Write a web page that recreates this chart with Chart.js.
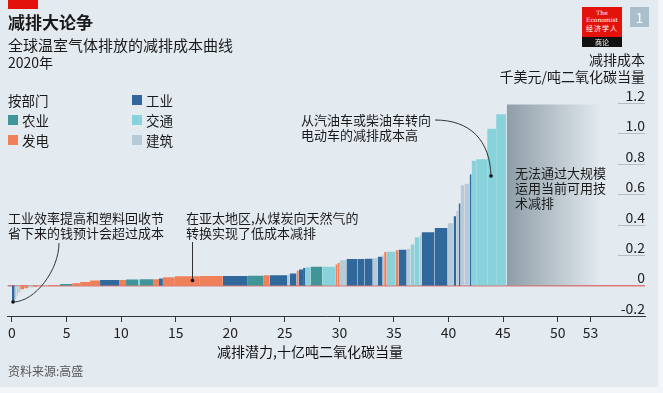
<!DOCTYPE html>
<html>
<head>
<meta charset="utf-8">
<script src="https://cdn.jsdelivr.net/npm/chart.js@4"></script>
<style>
  html, body { margin: 0; padding: 0; background: #f3f6f8; }
  #wrap { position: relative; width: 663px; height: 393px; overflow: hidden;
          font-family: "Noto Sans CJK SC", "Noto Sans", sans-serif; color: #1a1a1a; }
  #bg { position: absolute; left: 0; top: 0; width: 658px; height: 387px; background: #e4ebf0; }
  #c { position: absolute; left: 0; top: 0; }
  .t { position: absolute; white-space: nowrap; }
  .sw { position: absolute; width: 10px; height: 10px; }
  svg { position: absolute; left: 0; top: 0; }
</style>
</head>
<body>
<div id="wrap">
  <div id="bg"></div>
  <canvas id="c" width="663" height="393"></canvas>

  <div style="position:absolute;left:8px;top:0;width:30px;height:9px;background:#e3120b"></div>
  <div class="t" style="left:8px;top:12px;font-size:17px;line-height:20px;font-weight:bold">减排大论争</div>
  <div class="t" style="left:8px;top:36px;font-size:15px;line-height:18px">全球温室气体排放的减排成本曲线</div>
  <div class="t" style="left:8px;top:53px;font-size:14px;line-height:18px">2020年</div>

  <!-- legend -->
  <div class="t" style="left:8px;top:92px;font-size:13.5px;line-height:16px">按部门</div>
  <div class="sw" style="left:8px;top:115px;background:#3f9598"></div>
  <div class="t" style="left:22px;top:112px;font-size:13.5px;line-height:16px">农业</div>
  <div class="sw" style="left:8px;top:135px;background:#ef8059"></div>
  <div class="t" style="left:22px;top:132px;font-size:13.5px;line-height:16px">发电</div>
  <div class="sw" style="left:132px;top:95px;background:#31689b"></div>
  <div class="t" style="left:146px;top:92px;font-size:13.5px;line-height:16px">工业</div>
  <div class="sw" style="left:132px;top:115px;background:#88d2db"></div>
  <div class="t" style="left:146px;top:112px;font-size:13.5px;line-height:16px">交通</div>
  <div class="sw" style="left:132px;top:135px;background:#b5cbd7"></div>
  <div class="t" style="left:146px;top:132px;font-size:13.5px;line-height:16px">建筑</div>

  <!-- logo -->
  <div style="position:absolute;left:582px;top:7px;width:40px;height:30px;background:#e3120b;color:#fff;text-align:center;font-family:'DejaVu Serif',serif">
    <div style="font-size:6px;line-height:7px;margin-top:2px">The</div>
    <div style="font-size:6px;line-height:7px">Economist</div>
    <div style="font-size:7px;line-height:10px;font-family:'Noto Sans CJK SC';letter-spacing:1px">经济学人</div>
  </div>
  <div style="position:absolute;left:582px;top:37px;width:40px;height:10px;background:#111;color:#fff;text-align:center;font-size:7px;line-height:10px">商论</div>
  <div style="position:absolute;left:630px;top:7px;width:19px;height:20px;background:#a9bfcc;color:#fff;text-align:center;font-size:14px;line-height:20px">1</div>

  <!-- y axis title -->
  <div class="t" style="right:18px;top:51px;font-size:14px;line-height:17px;text-align:right">减排成本<br>千美元/吨二氧化碳当量</div>

  <!-- annotations -->
  <div class="t" style="left:8px;top:210px;font-size:13px;line-height:15px">工业效率提高和塑料回收节<br>省下来的钱预计会超过成本</div>
  <div class="t" style="left:186px;top:210px;font-size:13px;line-height:15px">在亚太地区,从煤炭向天然气的<br>转换实现了低成本减排</div>
  <div class="t" style="left:301px;top:112px;font-size:13px;line-height:15px">从汽油车或柴油车转向<br>电动车的减排成本高</div>
  <div class="t" style="left:515px;top:165px;font-size:13px;line-height:15px">无法通过大规模<br>运用当前可用技<br>术减排</div>

  <svg width="663" height="393">
    <path d="M59,243 C59,270 35,302 13,302" fill="none" stroke="#333" stroke-width="1"/>
    <circle cx="13" cy="302" r="1.8" fill="#111"/>
    <path d="M192.5,242 L192.5,280" fill="none" stroke="#333" stroke-width="1"/>
    <circle cx="192.5" cy="280.5" r="1.8" fill="#111"/>
    <path d="M435,120 C470,120 490,140 491,176" fill="none" stroke="#333" stroke-width="1"/>
    <circle cx="491" cy="176" r="1.8" fill="#111"/>
  </svg>

  <div class="t" style="left:217px;top:343px;font-size:14px;line-height:17px;color:#111">减排潜力,十亿吨二氧化碳当量</div>
  <div class="t" style="left:8px;top:363px;font-size:12px;line-height:16px;color:#555">资料来源:高盛</div>
</div>

<script>
// segment edges along x (billion tonnes CO2e), one more than the costs
const segEdges = [0, 0.25, 0.41, 0.57, 0.75, 1.12, 1.48, 1.94, 2.31, 3.31,
  4.41, 5.51, 6.24, 7.15, 8.07, 9.81, 10.45, 11.55, 11.73, 12.92,
  13.47, 13.83, 14.93, 17.22, 19.32, 21.61, 23.07, 23.62, 25.24, 25.45,
  26.07, 26.28, 26.67, 26.89, 27.35, 28.44, 29.63, 29.82, 30.03, 30.64,
  31.67, 32.31, 33.05, 33.50, 33.96, 34.10, 34.33, 35.15, 35.42, 36.16,
  36.52, 36.89, 37.35, 37.53, 38.72, 39.91, 40.46, 40.70, 40.92, 41.10,
  41.47, 41.93, 42.11, 42.53, 43.54, 44.36, 45.28];
// abatement cost, thousand $ per tonne CO2e
const segCosts = [-0.108, -0.09, -0.065, -0.045, -0.024, -0.018, -0.012, -0.007, -0.003, 0.003,
  0.011, 0.015, 0.024, 0.033, 0.037, 0.037, 0.04, 0.04, 0.041, 0.042,
  0.047, 0.055, 0.061, 0.063, 0.063, 0.064, 0.068, 0.068, 0.072, 0.079,
  0.098, 0.105, 0.116, 0.12, 0.123, 0.123, 0.138, 0.149, 0.166, 0.174,
  0.175, 0.176, 0.18, 0.19, 0.2, 0.22, 0.222, 0.232, 0.236, 0.242,
  0.27, 0.318, 0.33, 0.35, 0.378, 0.41, 0.455, 0.49, 0.54, 0.66,
  0.67, 0.73, 0.82, 0.83, 1.03, 1.126];
// I 工业, A 农业, P 发电, T 交通, B 建筑
const segSectors = ['I','B','B','B','P','P','B','P','B','P',
  'A','P','P','P','I','P','A','T','A','P',
  'I','P','P','P','I','A','P','I','B','I',
  'P','I','I','T','A','T','P','P','B','I',
  'I','I','B','I','B','P','T','P','I','B',
  'T','T','B','I','I','B','I','B','I','B',
  'B','I','T','T','T','T'];
const noTechRange = [45.33, 54];
const noTechCost = 1.19;
const xTicks = [0, 5, 10, 15, 20, 25, 30, 35, 40, 45, 50, 53];

const sectorColors = { I: '#31689b', A: '#3f9598', P: '#ef8059', T: '#88d2db', B: '#b5cbd7' };

function box(x0, x1, y) {
    return [{x: x0, y: 0}, {x: x0, y: y}, {x: x1, y: y}, {x: x1, y: 0}];
}

var datasets = segCosts.map(function(cost, i) {
    return {
        data: box(segEdges[i], segEdges[i + 1], cost),
        backgroundColor: sectorColors[segSectors[i]],
        borderColor: 'transparent',
        borderWidth: 0,
        pointRadius: 0,
        fill: 'origin'
    };
});

// grey box for what cannot be abated, fading out to the right
datasets.push({
    data: box(noTechRange[0], noTechRange[1], noTechCost),
    backgroundColor: function(context) {
        const chart = context.chart;
        if (!chart.chartArea) return '#8d9da7';
        const xs = chart.scales.x;
        const g = chart.ctx.createLinearGradient(xs.getPixelForValue(noTechRange[0]), 0, xs.getPixelForValue(noTechRange[1]), 0);
        g.addColorStop(0, 'rgba(141,157,167,1)');
        g.addColorStop(1, 'rgba(141,157,167,0)');
        return g;
    },
    borderColor: 'transparent',
    borderWidth: 0,
    pointRadius: 0,
    fill: 'origin'
});

// short grey rules under the right-hand labels
const tickUnderlines = {
    id: 'tickUnderlines',
    afterDraw(chart) {
        const { ctx, chartArea } = chart;
        const y = chart.scales.y;
        ctx.save();
        ctx.strokeStyle = '#b3bec7';
        ctx.lineWidth = 1;
        y.ticks.forEach(function(t) {
            if (Math.abs(t.value) < 1e-9 || Math.abs(t.value - y.min) < 1e-9) return;
            const py = Math.round(y.getPixelForValue(t.value)) + 0.5;
            ctx.beginPath();
            ctx.moveTo(chartArea.right - 27, py);
            ctx.lineTo(chartArea.right, py);
            ctx.stroke();
        });
        ctx.restore();
    }
};

Chart.defaults.font.family = '"Noto Sans CJK SC", "Noto Sans", sans-serif';
Chart.defaults.color = '#222';

new Chart(document.getElementById('c'), {
    type: 'line',
    data: { datasets: datasets },
    options: {
        responsive: false,
        animation: false,
        layout: { padding: { left: 7.6, right: 18, top: 103, bottom: 47 } },
        plugins: { legend: { display: false }, tooltip: { enabled: false } },
        elements: { line: { tension: 0 } },
        scales: {
            x: {
                type: 'linear',
                min: -0.4,
                max: 58,
                afterBuildTicks: function(axis) {
                    axis.ticks = xTicks.map(function(v) { return { value: v }; });
                },
                afterFit: function(axis) { axis.height = 30; },
                grid: { drawOnChartArea: false, drawTicks: true, tickLength: 6, color: '#333' },
                border: { display: true, color: '#333', width: 1 },
                ticks: { font: { size: 14 }, padding: 2, maxRotation: 0, autoSkip: false }
            },
            y: {
                position: 'right',
                min: -0.2,
                max: 1.2,
                z: 1,
                afterFit: function(axis) { axis.width = 0; },
                grid: {
                    drawTicks: false,
                    color: function(c) { return c.tick && Math.abs(c.tick.value) < 1e-9 ? '#d97b7b' : 'rgba(0,0,0,0)'; },
                    lineWidth: function(c) { return c.tick && Math.abs(c.tick.value) < 1e-9 ? 1.5 : 0; }
                },
                border: { display: false },
                ticks: {
                    stepSize: 0.2,
                    mirror: true,
                    padding: 0,
                    labelOffset: -7.5,
                    font: { size: 14 },
                    callback: function(v) { return Math.abs(v) < 1e-9 ? '0' : v.toFixed(1); }
                }
            }
        }
    },
    plugins: [tickUnderlines]
});
</script>
</body>
</html>
